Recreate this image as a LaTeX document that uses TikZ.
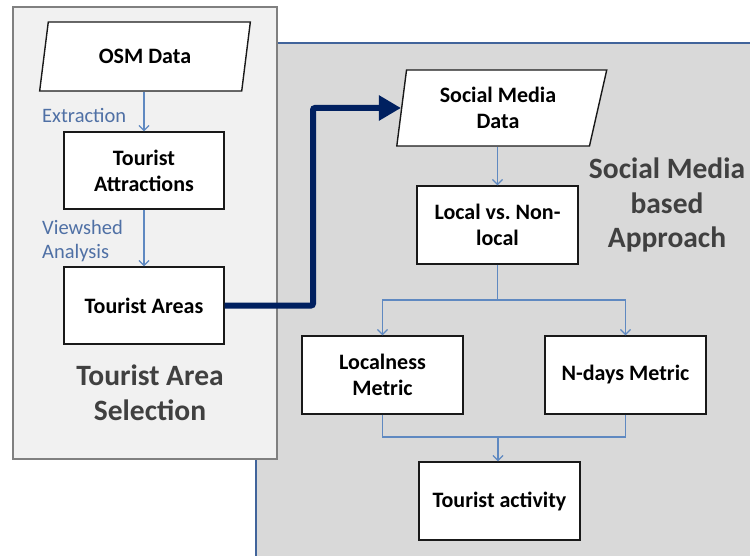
\documentclass[tikz,border=0pt]{standalone}
\usepackage{fontspec}
\setmainfont{Carlito}
\usepackage{tikz}
\usetikzlibrary{shapes.geometric, arrows.meta}

\definecolor{flowblue}{RGB}{95,137,193}
\definecolor{labelblue}{RGB}{79,112,165}
\definecolor{navyarrow}{RGB}{0,32,96}
\definecolor{panelline}{RGB}{65,100,155}
\definecolor{headgray}{RGB}{64,64,64}
\definecolor{leftpanel}{RGB}{241,241,241}
\definecolor{rightpanel}{RGB}{217,217,217}

\begin{document}
\begin{tikzpicture}[x=1pt,y=-1pt,
  box/.style={draw=black!90, line width=1.4pt, fill=white, minimum width=161pt, minimum height=78pt,
    align=center, inner sep=2pt, font=\fontsize{22}{26}\selectfont\bfseries},
  dataset/.style={box, trapezium, trapezium stretches=true},
  flow/.style={draw=flowblue, line width=1.2pt, -{Straight Barb[length=5pt,width=10pt]}},
  link/.style={draw=flowblue, line width=1.2pt},
  steplabel/.style={text=labelblue, align=left, anchor=west, inner sep=0pt, font=\fontsize{20.5}{24.5}\selectfont},
  heading/.style={text=headgray, align=center, font=\fontsize{29.5}{34.5}\selectfont\bfseries},
  handover/.style={draw=navyarrow, line width=6pt, rounded corners=2pt, -{Triangle[length=22pt,width=24pt]}}]

\useasboundingbox (0,0) rectangle (750,556);

%Shape: social media panel
\fill[rightpanel] (256,43) rectangle (750,556);
\draw[panelline, line width=2pt] (256,556) -- (256,43) -- (750,43);

%Shape: tourist area panel
\draw[draw=black!50, fill=leftpanel, line width=2.5pt] (13,7) rectangle (277,459);

% Tourist area selection
\node[dataset, minimum width=211pt, minimum height=69pt, trapezium left angle=77, trapezium right angle=103] (osm) at (145,56.5) {OSM Data};
\node[box, minimum width=160pt, minimum height=77pt] (attr) at (144,170.5) {Tourist\\Attractions};
\node[box, minimum width=160pt, minimum height=77pt] (areas) at (144,305.5) {Tourist Areas};

\node[steplabel] (extract) at (42,115) {Extraction};
\node[steplabel] (viewshed) at (42,241) {Viewshed\\Analysis};
\node[heading] (selhead) at (150,393) {Tourist Area\\Selection};

\draw[flow] (attr.north |- osm.south) -- (attr.north);
\draw[flow] (attr) -- (areas);

% Social media based approach
\node[dataset, minimum width=210pt, minimum height=76pt, trapezium left angle=82, trapezium right angle=104] (smd) at (498,108) {Social Media\\Data};
\node[box] (local) at (497.5,225) {Local vs.\ Non-\\local};
\node[box] (localness) at (382.5,375) {Localness\\Metric};
\node[box] (ndays) at (625.5,375) {N-days Metric};
\node[box] (activity) at (499.5,501) {Tourist activity};

\node[heading] (smhead) at (667,205) {Social Media\\based\\Approach};

\coordinate (split) at (497.5,300);
\coordinate (join) at (498,437);
\coordinate (riser) at (313,200);

\draw[flow] (local.north |- smd.south) -- (local.north);
\draw[link] (local) -- (split);
\draw[flow] (split) -| (localness);
\draw[flow] (split) -| (ndays);
\draw[link] (localness) |- (join);
\draw[link] (ndays) |- (join);
\draw[flow] (join) -- (join |- activity.north);

% hand-over from the tourist areas
\draw[handover] (areas.east) -| (riser) |- (smd.west);

\end{tikzpicture}
\end{document}
